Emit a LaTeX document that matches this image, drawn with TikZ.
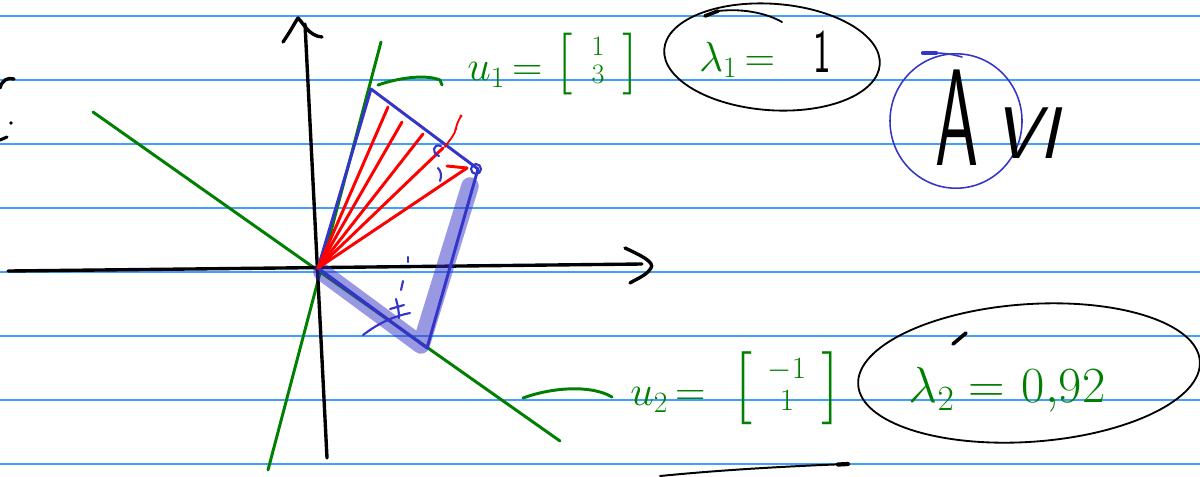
\RequirePackage{fix-cm}
\documentclass[tikz,border=0pt]{standalone}
\usepackage{fontspec}
\definecolor{rulec}{RGB}{64,160,255}
\definecolor{ink}{RGB}{0,128,0}
\definecolor{pen}{RGB}{52,52,200}
\newcommand{\colvec}[6]{{\fontsize{#1}{#1}\selectfont[\hspace{#4}\raisebox{#5}{\fontsize{#2}{#3}\selectfont\begin{tabular}{@{}c@{}}#6\end{tabular}}\hspace{#4}]}}
\begin{document}
\begin{tikzpicture}[x=0.025cm,y=-0.025cm, line cap=round, line join=round,
  rulel/.style={draw=rulec,line width=1pt},
  axisl/.style={black,line width=2.4pt},
  gline/.style={ink,line width=2.1pt},
  rline/.style={red,line width=2.1pt},
  bline/.style={pen,line width=2.1pt},
  bthin/.style={pen,line width=1.5pt},
  band/.style={pen,opacity=0.5,line width=12.5pt},
  ringl/.style={black,line width=1.3pt},
  gtext/.style={ink,inner sep=0pt}]
\useasboundingbox (0,0) rectangle (1200,476);
\fill[white] (0,0) rectangle (1200,476);
\foreach \yy in {16,80,...,464} \draw[rulel] (0,\yy) -- (1200,\yy);

% coordinates
\coordinate (O) at (318,268);
\coordinate (P1) at (371,89);
\coordinate (P2) at (478,169);
\coordinate (P3) at (427,348);

% green eigen-lines
\coordinate (g1a) at (268,470); \coordinate (g1b) at (381,42);
\coordinate (g2a) at (93,112);  \coordinate (g2b) at (560,441);
\draw[gline] (g1a) -- (g1b);
\draw[gline] (g2a) -- (g2b);

% axes
\coordinate (xs) at (8,271); \coordinate (xe) at (642,264);
\draw[axisl] (xs) -- (xe);
\draw[axisl] (625,248) .. controls (640,255) and (655,262) .. (651,268) .. controls (646,276) and (636,279) .. (630,283);
\coordinate (ys) at (327,458); \coordinate (ye) at (305,24);
\draw[axisl] (ys) -- (ye);
\draw[axisl] (283,42) .. controls (290,32) and (294,24) .. (298,18) .. controls (304,24) and (309,36) .. (322,37);

% translucent band
\coordinate (b1) at (322,272); \coordinate (b2) at (421,345); \coordinate (b3) at (470,186);
\draw[band] (b1) -- (b2) -- (b3);

% parallelogram
\draw[bline] (O) -- (P1) -- (P2) -- (P3) -- cycle;

% red rays
\foreach \p in {(388,107),(402,122),(423,134),(443,148),(467,168)}
  \draw[rline] (O) -- \p;
\draw[rline] (447,166) -- (467,168);
\draw[red,line width=1.3pt] (445,147) .. controls (450,139) and (455,135) .. (456,128) .. controls (457,123) and (459,120) .. (461,116);
\fill[red] (461,116) circle (1.6);
\fill[red] (456,129) circle (1.4);

% small blue marks near the corner
\draw[bthin] (441,146) .. controls (433,143) and (431,153) .. (439,156);
\draw[bthin] (438,168) .. controls (441,171) and (442,176) .. (440,181);
\draw[bthin] (476,169) circle (5);
\draw[bthin] (408,257) -- (408,262);
\draw[bthin] (403,281) -- (401,290);
\draw[bthin] (396,299) .. controls (398,306) and (399,312) .. (399,318);
\draw[bthin] (390,309) -- (404,305);
\draw[bthin] (363,335) .. controls (380,322) and (395,316) .. (410,313);

% u1 label
\draw[gline] (378,85) .. controls (398,78) and (425,74) .. (440,80) -- (442,85);
\node[gtext,font=\fontsize{30}{32}\selectfont] (u1) at (505,75) {$u_1\,{=}$};
\node[gtext] (v1) at (598,64) {\colvec{44}{20}{20}{13pt}{6pt}{1\\3}};

% lambda1
\draw[ringl,rotate around={-4:(772,57)}] (772,57) ellipse [x radius=2.7cm, y radius=1.33cm];
\draw[black,line width=2.6pt] (705,16) -- (718,11);
\draw[ringl] (718,11) .. controls (745,8) and (768,14) .. (782,22);
\node[gtext,font=\fontsize{30}{32}\selectfont] (l1) at (737,60) {$\lambda_1\,{=}$};
\node[inner sep=0pt,font=\sffamily\fontsize{44}{46}\selectfont] (one) at (822,52) {\scalebox{0.6}[1]{1}};

% u2 label
\draw[gline] (523,398) .. controls (550,388) and (590,384) .. (612,397);
\node[gtext,font=\fontsize{30}{32}\selectfont] (u2) at (668,400) {$u_2\,{=}$};
\node[gtext] (v2) at (787,388) {\colvec{52}{22}{23}{11pt}{7.5pt}{$-$1\\1}};

% lambda2
\draw[ringl,rotate around={4:(1029,373)}] (1029,373) ellipse [x radius=4.28cm, y radius=1.72cm];
\draw[black,line width=2.6pt] (953,344) -- (966,333);
\node[gtext,font=\fontsize{36}{38}\selectfont] (l2) at (1007,390) {$\lambda_2\hspace{10pt}{=}\hspace{12pt}0{,}92$};

% bottom stroke
\draw[black,line width=1.4pt] (660,476) .. controls (720,470) and (790,466) .. (848,464);
\draw[black,line width=3pt] (838,464.5) -- (848,464);

% A circled
\draw[pen,line width=1.1pt] (956,121) ellipse [x radius=1.65cm, y radius=1.68cm];
\draw[pen,line width=3pt] (923,53) -- (936,53);
\draw[pen,line width=1.1pt] (936,53) .. controls (945,53) and (955,55) .. (962,57);
\node[inner sep=0pt,font=\sffamily\fontsize{98}{100}\selectfont] (A) at (957,118) {\scalebox{0.5}[1]{A}};
\node[inner sep=0pt,font=\sffamily\slshape\fontsize{52}{54}\selectfont] (VI) at (1026,133) {VI};

% cut-off marks at left edge
\draw[black,line width=2.4pt] (0,88) .. controls (2,80) and (8,77) .. (14,79);
\fill[black] (11,123) circle (1.8);
\draw[black,line width=2.2pt] (0,140) -- (7,137);
\end{tikzpicture}
\end{document}
